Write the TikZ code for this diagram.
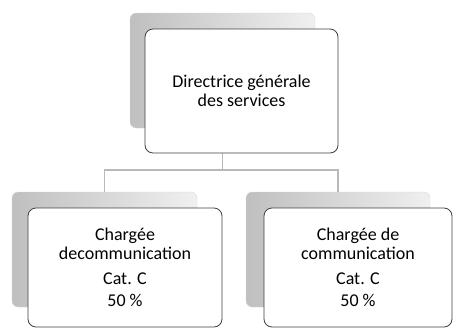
\documentclass[tikz,border=0pt]{standalone}
\usepackage{fontspec}
\setmainfont{Carlito}
\usepackage{tikz}
\usetikzlibrary{positioning}

\begin{document}
\begin{tikzpicture}[x=1pt, y=-1pt,
  backbox/.style={rectangle, rounded corners=6pt, draw=gray!30,
    left color=gray!50, right color=gray!12,
    minimum width=185pt, minimum height=115pt, inner sep=0pt},
  frontbox/.style={rectangle, rounded corners=8pt, draw=black!75,
    line width=0.8pt, fill=white, align=center, inner sep=0pt,
    font=\fontsize{18}{19.5}\selectfont},
  link/.style={draw=gray!55, line width=1.2pt}]
  \useasboundingbox (0,0) rectangle (453,330);

  % Back boxes (drawn first)
  \node[backbox] (topback) at (222.5,70.5) {};
  \node[backbox] (leftback) at (104.5,249.5) {};
  \node[backbox, minimum width=184pt] (rightback) at (338,249.5) {};

  % Connectors
  \coordinate (split) at (222.5,170);
  \draw[link] (topback.south) -- (split);
  \draw[link] (leftback.north) |- (split) -| (rightback.north);

  % Front boxes
  \node[frontbox, minimum width=193pt, minimum height=124pt] (dgs) at (241.5,91)
    {Directrice générale\\des services};
  \node[frontbox, minimum width=194pt, minimum height=119pt] (comleft) at (125,267.5)
    {Chargée\\decommunication\\[5pt]Cat. C\\[3pt]50 \%};
  \node[frontbox, minimum width=188pt, minimum height=119pt] (comright) at (358,267.5)
    {Chargée de\\communication\\[5pt]Cat. C\\[3pt]50 \%};
\end{tikzpicture}
\end{document}
